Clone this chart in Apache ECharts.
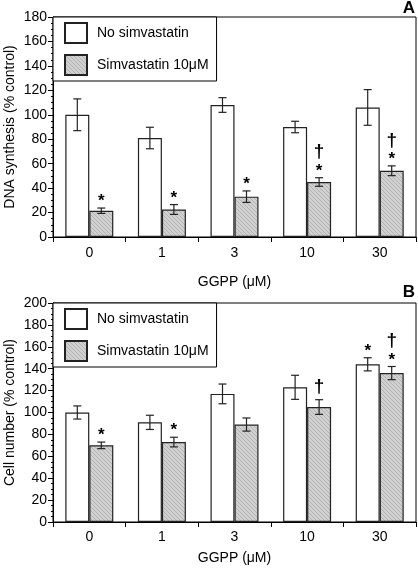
<!DOCTYPE html>
<html><head><meta charset="utf-8">
<script src="https://cdn.jsdelivr.net/npm/echarts@6/dist/echarts.min.js"></script>
<style>html,body{margin:0;padding:0;background:#fff}#c{width:418px;height:568px}</style>
</head><body><div id="c"></div>
<script>
const categories = ['0', '1', '3', '10', '30'];
const seriesNames = ['No simvastatin', 'Simvastatin 10μM'];

// Panel A: DNA synthesis (% control)
const aNoSim = [100, 81, 108, 90, 106];
const aNoSimErr = [13, 8.8, 6, 4.7, 14.6];
const aSim = [21.5, 22.5, 33, 45, 54.2];
const aSimErr = [2.2, 4, 4.7, 3.5, 4];
const aNoSimMarks = ['', '', '', '', ''];
const aSimMarks = ['*', '*', '*', '*†', '*†'];

// Panel B: Cell number (% control)
const bNoSim = [100, 91, 117, 123, 144];
const bNoSimErr = [6, 6.5, 9, 11, 6];
const bSim = [70, 73, 89, 105, 136];
const bSimErr = [3, 4.4, 6, 6.7, 6];
const bNoSimMarks = ['', '', '', '', '*'];
const bSimMarks = ['*', '*', '', '†', '*†'];

const aTicks = [0, 20, 40, 60, 80, 100, 120, 140, 160, 180];
const bTicks = [0, 20, 40, 60, 80, 100, 120, 140, 160, 180, 200];

// hatch pattern
const pc = document.createElement('canvas');
pc.width = 4; pc.height = 4;
const g = pc.getContext('2d');
g.fillStyle = '#d0d0d0'; g.fillRect(0, 0, 4, 4);
g.fillStyle = '#b3b3b3';
for (let i = 0; i < 4; i++) g.fillRect(i, i, 1, 1);
const hatch = { image: pc, repeat: 'repeat' };

const FONT = 'Liberation Sans, Arial, Helvetica, sans-serif';
const BW = 24;

function errSeries(gi, vals, errs, side) {
  return {
    type: 'custom', xAxisIndex: gi, yAxisIndex: gi, silent: true, z: 5,
    data: vals.map((v, i) => [i, v, errs[i]]),
    encode: { x: 0, y: 1 },
    renderItem: function (params, api) {
      const c = api.coord([api.value(0), api.value(1)]);
      const x = c[0] + side * BW / 2;
      const hi = api.coord([api.value(0), api.value(1) + api.value(2)])[1];
      const lo = api.coord([api.value(0), api.value(1) - api.value(2)])[1];
      const st = { stroke: '#222', lineWidth: 1.2 };
      return { type: 'group', children: [
        { type: 'line', shape: { x1: x, y1: hi, x2: x, y2: lo }, style: st },
        { type: 'line', shape: { x1: x - 4, y1: hi, x2: x + 4, y2: hi }, style: st },
        { type: 'line', shape: { x1: x - 4, y1: lo, x2: x + 4, y2: lo }, style: st }
      ]};
    }
  };
}

function markSeries(gi, vals, errs, marks, side) {
  return {
    type: 'custom', xAxisIndex: gi, yAxisIndex: gi, silent: true, z: 6,
    data: vals.map((v, i) => [i, v + errs[i], marks[i]]),
    encode: { x: 0, y: 1 },
    renderItem: function (params, api) {
      const idx = params.dataIndex;
      const m = marks[idx];
      if (!m) return { type: 'group', children: [] };
      const c = api.coord([api.value(0), api.value(1)]);
      const x = c[0] + side * BW / 2;
      const ch = [];
      let y = c[1] - 3;
      for (const s of m) {
        if (s === '*') {
          ch.push({ type: 'text', style: { text: '*', x: x, y: y + 5, align: 'center', verticalAlign: 'bottom', font: 'bold 17px ' + FONT, fill: '#000' } });
          y -= 13;
        } else {
          ch.push({ type: 'text', style: { text: '†', x: x, y: y, align: 'center', verticalAlign: 'bottom', font: 'bold 19px ' + FONT, fill: '#000' } });
          y -= 18;
        }
      }
      return { type: 'group', children: ch };
    }
  };
}

function yAxisFor(gi, ticks, name) {
  return {
    type: 'value', gridIndex: gi, min: ticks[0], max: ticks[ticks.length - 1], interval: ticks[1] - ticks[0],
    name: name, nameLocation: 'middle', nameGap: 36, nameRotate: 90, nameMoveOverlap: false,
    nameTextStyle: { fontFamily: FONT, fontSize: 14, color: '#000' },
    axisLine: { show: true, lineStyle: { color: '#000', width: 1 } },
    axisTick: { show: true, length: 5, lineStyle: { color: '#000' } },
    minorTick: { show: true, splitNumber: 4, length: 2, lineStyle: { color: '#000' } },
    axisLabel: { fontFamily: FONT, fontSize: 14, color: '#000', margin: 6 },
    splitLine: { show: false }
  };
}
function xAxisFor(gi, labelMargin, nameGap) {
  return {
    type: 'category', gridIndex: gi, data: categories,
    name: 'GGPP (μM)', nameLocation: 'middle', nameGap: nameGap, nameMoveOverlap: false,
    nameTextStyle: { fontFamily: FONT, fontSize: 14, color: '#000' },
    axisLine: { show: true, lineStyle: { color: '#000', width: 1 } },
    axisTick: { show: true, length: 5, lineStyle: { color: '#000' } },
    axisLabel: { fontFamily: FONT, fontSize: 14, color: '#000', margin: labelMargin },
    splitLine: { show: false }
  };
}
function legendFor(top) {
  return {
    data: seriesNames, orient: 'vertical', left: 53, top: top,
    backgroundColor: '#fff', borderColor: '#000', borderWidth: 1, borderRadius: 0,
    padding: [5, 8, 5, 11], itemWidth: 22, itemHeight: 20, itemGap: 10,
    icon: 'rect', selectedMode: false,
    textStyle: { fontFamily: FONT, fontSize: 14, color: '#000', padding: [0, 0, 0, 5] }
  };
}
function barSeries(gi, name, data, color) {
  return {
    type: 'bar', name: name, xAxisIndex: gi, yAxisIndex: gi, data: data,
    barWidth: BW, barGap: '0%', silent: true,
    itemStyle: { color: color, borderColor: '#222', borderWidth: 1.2 }
  };
}

const chart = echarts.init(document.getElementById('c'), null, { renderer: 'canvas' });
chart.setOption({
  animation: false,
  backgroundColor: '#fff',
  grid: [
    { left: 53, right: 2, top: 17, height: 220, show: true, borderColor: '#000', borderWidth: 1, backgroundColor: 'transparent', containLabel: false, outerBoundsMode: 'none' },
    { left: 53, right: 2, top: 303, height: 219, show: true, borderColor: '#000', borderWidth: 1, backgroundColor: 'transparent', containLabel: false, outerBoundsMode: 'none' }
  ],
  legend: [legendFor(17), legendFor(303)],
  xAxis: [xAxisFor(0, 9, 38), xAxisFor(1, 8, 29)],
  yAxis: [yAxisFor(0, aTicks, 'DNA synthesis (% control)'), yAxisFor(1, bTicks, 'Cell number (% control)')],
  graphic: [
    { type: 'text', right: 3, top: 0, style: { text: 'A', font: 'bold 17px ' + FONT, fill: '#000' } },
    { type: 'text', right: 3, top: 284, style: { text: 'B', font: 'bold 17px ' + FONT, fill: '#000' } }
  ],
  series: [
    barSeries(0, seriesNames[0], aNoSim, '#fff'),
    barSeries(0, seriesNames[1], aSim, hatch),
    barSeries(1, seriesNames[0], bNoSim, '#fff'),
    barSeries(1, seriesNames[1], bSim, hatch),
    errSeries(0, aNoSim, aNoSimErr, -1),
    errSeries(0, aSim, aSimErr, 1),
    errSeries(1, bNoSim, bNoSimErr, -1),
    errSeries(1, bSim, bSimErr, 1),
    markSeries(0, aNoSim, aNoSimErr, aNoSimMarks, -1),
    markSeries(0, aSim, aSimErr, aSimMarks, 1),
    markSeries(1, bNoSim, bNoSimErr, bNoSimMarks, -1),
    markSeries(1, bSim, bSimErr, bSimMarks, 1)
  ]
});
</script></body></html>
